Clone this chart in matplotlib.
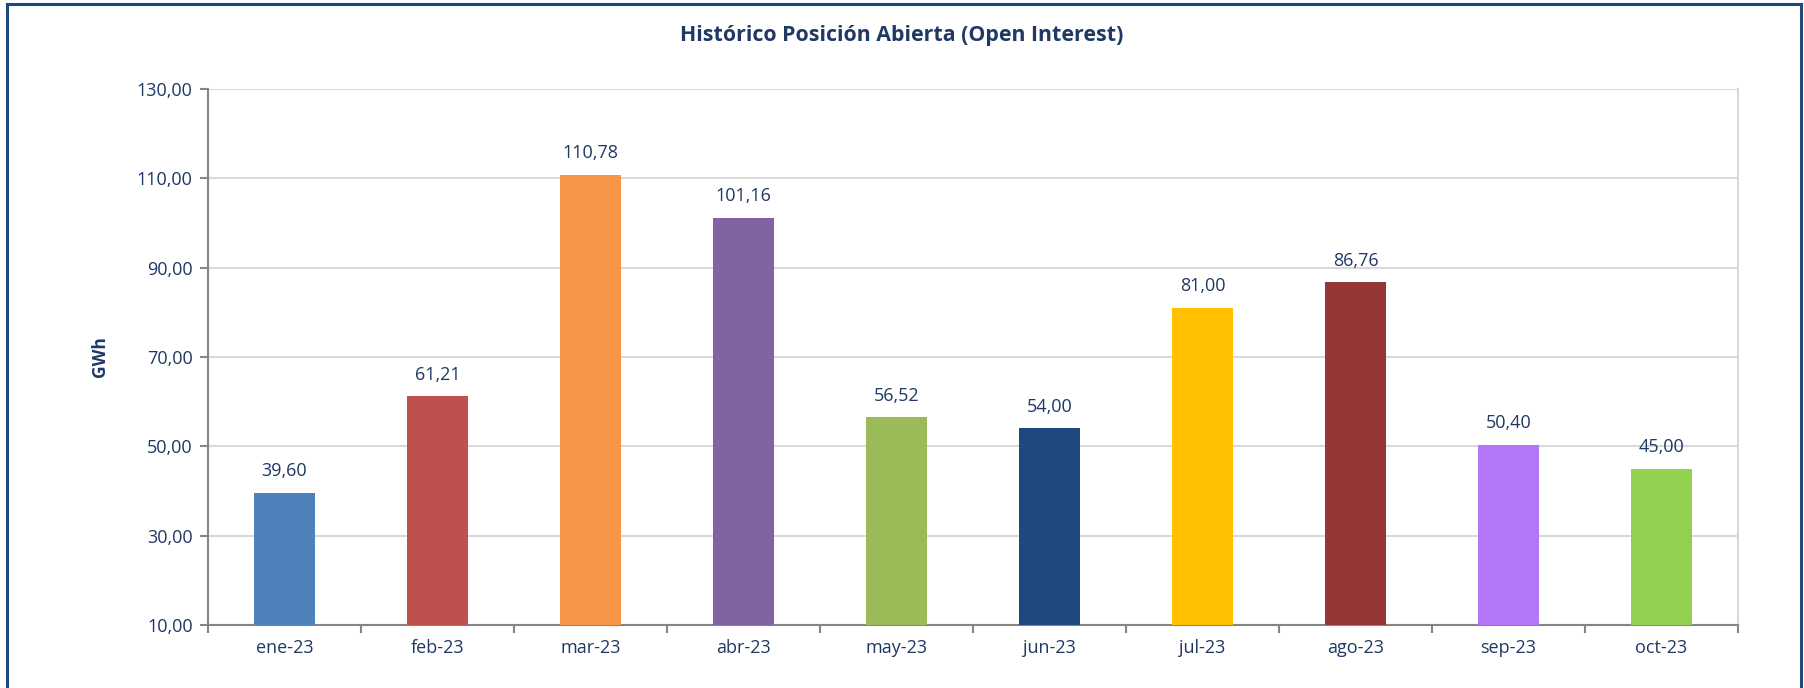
import matplotlib
matplotlib.use("Agg")
import matplotlib.pyplot as plt
from matplotlib.patches import Rectangle

categories = ["ene-23", "feb-23", "mar-23", "abr-23", "may-23", "jun-23",
              "jul-23", "ago-23", "sep-23", "oct-23"]
values = [39.60, 61.21, 110.78, 101.16, 56.52, 54.00, 81.00, 86.76, 50.40, 45.00]
colors = ["#4F81BD", "#C0504D", "#F79646", "#8064A2", "#9BBB59", "#1F497D",
          "#FFC000", "#953735", "#B376F8", "#92D050"]
yticks = [10, 30, 50, 70, 90, 110, 130]

txt = "#1F3864"
plt.rcParams['font.family'] = ['Open Sans', 'DejaVu Sans']

fig = plt.figure(figsize=(18.04, 6.88), dpi=100)
W, H = 1804, 688
ax = fig.add_axes([208 / W, 1 - 625 / H, (1738 - 208) / W, (625 - 89) / H])

x = list(range(len(categories)))
ax.bar(x, values, width=0.405, color=colors, zorder=3)
for xi, v in zip(x, values):
    ax.annotate(f"{v:.2f}".replace(".", ","), (xi, v), xytext=(0, 9),
                textcoords="offset points", ha="center", va="bottom",
                fontsize=13, color=txt)

ax.set_xlim(-0.5, len(categories) - 0.5)
ax.set_ylim(10, 130)
ax.set_yticks(yticks)
ax.set_yticklabels([f"{t:.2f}".replace(".", ",") for t in yticks])
ax.set_xticks(x)
ax.set_xticklabels(categories)
ax.set_xticks([i - 0.5 for i in range(len(categories) + 1)], minor=True)
ax.tick_params(axis="x", which="major", length=0, pad=10, labelsize=13, labelcolor=txt)
ax.tick_params(axis="x", which="minor", length=6, width=1.5, color="#868686", direction="out")
ax.tick_params(axis="y", length=6, width=1.5, color="#868686", pad=5, labelsize=13, labelcolor=txt)

ax.grid(axis="y", color="#D9D9D9", linewidth=1.5, zorder=0)
for s in ["left", "bottom"]:
    ax.spines[s].set_color("#868686")
    ax.spines[s].set_linewidth(1.5)
ax.spines["top"].set_visible(False)
ax.spines["right"].set_color("#D9D9D9")
ax.spines["right"].set_linewidth(1.5)

ax.set_ylabel("GWh", fontsize=12.5, fontweight="bold", color=txt)
ax.yaxis.set_label_coords((109 - 208) / 1530, 0.5)

fig.text(0.5, 1 - 36 / H, "Histórico Posición Abierta (Open Interest)",
         ha="center", va="center", fontsize=15.4, fontweight="bold", color=txt)

fig.patches.append(Rectangle((7 / W, -0.1), (1801 - 7) / W, 1 - 4 / H + 0.1,
                             transform=fig.transFigure, fill=False,
                             edgecolor="#1F497D", linewidth=2.2))

fig.savefig("out.png", dpi=100)
